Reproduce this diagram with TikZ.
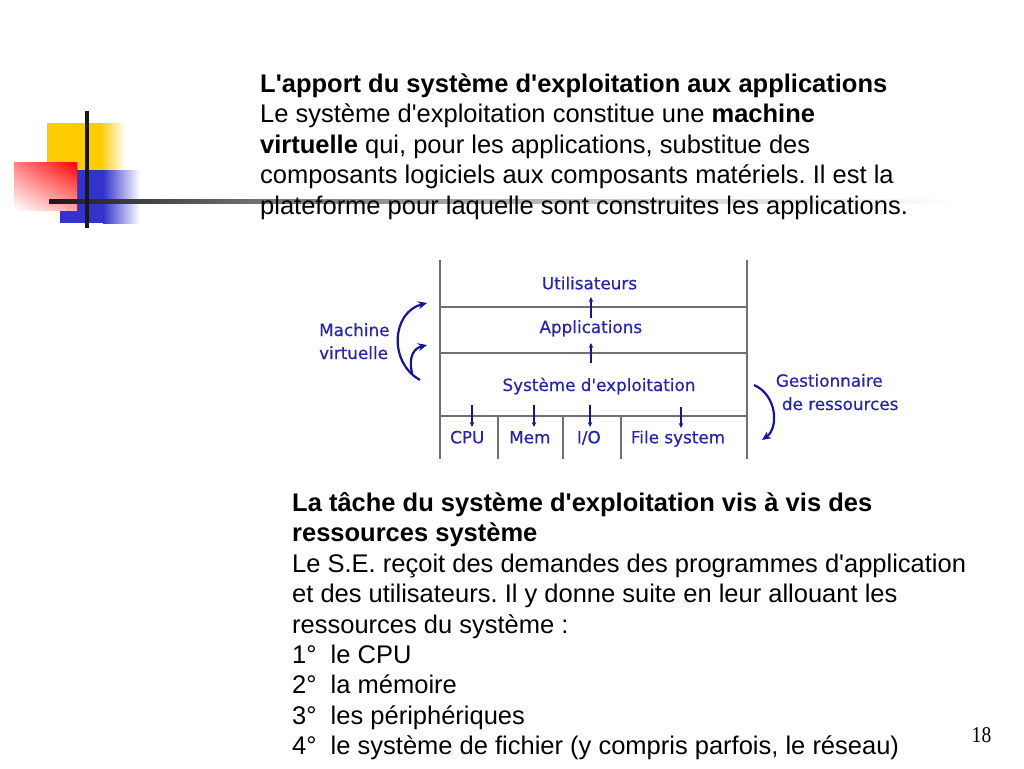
\documentclass[tikz,border=0pt]{standalone}
\usepackage{fontspec}
\newfontfamily\bodyfont{Liberation Sans}
\newfontfamily\diagfont{DejaVu Sans}[FakeBold=0.4]
\newfontfamily\numfont{Liberation Serif}[FakeStretch=0.87]
\usetikzlibrary{arrows.meta,shadings}
\definecolor{dblue}{RGB}{35,35,180}
\definecolor{ablue}{RGB}{20,20,160}
\definecolor{lgray}{RGB}{112,112,112}
\definecolor{lyellow}{RGB}{255,204,0}
\definecolor{lblue}{RGB}{51,51,204}
\definecolor{lred}{RGB}{255,0,0}
\definecolor{barblack}{RGB}{25,25,25}
\frenchspacing
\begin{document}
\begin{tikzpicture}[x=1pt,y=-1pt,
  body/.style={anchor=base west, inner sep=0pt, font=\bodyfont\frenchspacing\fontsize{25.5}{30.6}\selectfont},
  lbl/.style={anchor=base west, inner sep=0pt, text=dblue, font=\diagfont\fontsize{16.8}{20}\selectfont},
  grid/.style={draw=lgray, line width=2.5pt},
  smallarrow/.style={draw=ablue, line width=1.2pt, -{Stealth[length=5pt,width=4.5pt]}},
  bigarrow/.style={draw=ablue, line width=2.2pt, -{Stealth[length=9pt,width=8pt,inset=3pt]}}
]
\useasboundingbox (0,0) rectangle (1024,768);
\fill[white] (0,0) rectangle (1024,768);

% ---- logo ----
\fill[lyellow] (47,123) rectangle (100,170);
\shade[left color=lyellow, right color=white] (100,123) rectangle (125,170);
\fill[lblue] (60,170) rectangle (103,223);
\shade[left color=lblue, right color=white] (103,170) rectangle (140,223);
\shade[upper right=lred, upper left=lred!50!white, lower right=lred!35!white, lower left=white] (14,162) rectangle (77,210);
\shade[left color=barblack, right color=black!55] (49,199) rectangle (260,203.5);
\shade[left color=black!55, right color=black!20] (260,199) rectangle (620,203.5);
\shade[left color=black!20, right color=white] (620,199) rectangle (960,203.5);
\draw[barblack, line width=4pt] (87,110.7) -- (87,228);

% ---- first text block ----
\node[body] (t1) at (260,92) {\bfseries L'apport du système d'exploitation aux applications};
\node[body] (t2) at (260,122.5) {Le système d'exploitation constitue une \textbf{machine}};
\node[body] (t3) at (260,153) {\textbf{virtuelle} qui, pour les applications, substitue des};
\node[body] (t4) at (260,183.5) {composants logiciels aux composants matériels. Il est la};
\node[body] (t5) at (260,214) {plateforme pour laquelle sont construites les applications.};

% ---- diagram grid ----
\draw[grid] (440,260) -- (440,459);
\draw[grid] (747,260) -- (747,459);
\draw[grid] (440,307) -- (747,307);
\draw[grid] (440,353) -- (747,353);
\draw[grid] (440,416) -- (747,416);
\draw[grid] (498,416) -- (498,459);
\draw[grid] (563,416) -- (563,459);
\draw[grid] (621,416) -- (621,459);

% ---- diagram labels ----
\node[lbl] (util) at (541.7,289.3) {Utilisateurs};
\node[lbl] (appl) at (539.3,333) {Applications};
\node[lbl] (se) at (502.3,391) {Système d'exploitation};
\node[lbl] (cpu) at (450,443.3) {CPU};
\node[lbl] (mem) at (509,443.3) {Mem};
\node[lbl] (io) at (576.7,443.3) {I/O};
\node[lbl] (fs) at (630.7,443.3) {File system};
\node[lbl] (mv1) at (319,336) {Machine};
\node[lbl] (mv2) at (319,359) {virtuelle};
\node[lbl] (gr1) at (775.7,386.7) {Gestionnaire};
\node[lbl] (gr2) at (781.7,410) {de ressources};

% ---- small arrows ----
\coordinate (u1a) at (591,318); \coordinate (u1b) at (591,297);
\coordinate (u2a) at (591,363); \coordinate (u2b) at (591,343);
\coordinate (d1a) at (472,405); \coordinate (d1b) at (472,427);
\coordinate (d2a) at (534,405); \coordinate (d2b) at (534,427);
\coordinate (d3a) at (590,405); \coordinate (d3b) at (590,427);
\coordinate (d4a) at (681,407); \coordinate (d4b) at (681,428);
\draw[smallarrow] (u1a) -- (u1b);
\draw[smallarrow] (u2a) -- (u2b);
\draw[smallarrow] (d1a) -- (d1b);
\draw[smallarrow] (d2a) -- (d2b);
\draw[smallarrow] (d3a) -- (d3b);
\draw[smallarrow] (d4a) -- (d4b);

% ---- curved arrows ----
\coordinate (c1a) at (420,380); \coordinate (c1b) at (427,303);
\coordinate (c2a) at (412,373); \coordinate (c2b) at (427,345);
\coordinate (c3a) at (754,385); \coordinate (c3b) at (762,440);
\draw[bigarrow] (c1a) .. controls (388,362) and (392,312) .. (c1b);
\draw[bigarrow] (c2a) .. controls (408,355) and (415,348) .. (c2b);
\draw[bigarrow] (c3a) .. controls (777,395) and (779,428) .. (c3b);

% ---- second text block ----
\node[body] (s1) at (292,511) {\bfseries La tâche du système d'exploitation vis à vis des};
\node[body] (s2) at (292,541.5) {\bfseries ressources système};
\node[body] (s3) at (292,572) {Le S.E. reçoit des demandes des programmes d'application};
\node[body] (s4) at (292,602.5) {et des utilisateurs. Il y donne suite en leur allouant les};
\node[body] (s5) at (292,633) {ressources du système :};
\node[body] (s6) at (292,663) {1°\ \ le CPU};
\node[body] (s7) at (292,693.5) {2°\ \ la mémoire};
\node[body] (s8) at (292,724) {3°\ \ les périphériques};
\node[body] (s9) at (292,754.5) {4°\ \ le système de fichier (y compris parfois, le réseau)};

% ---- page number ----
\node[anchor=base west, inner sep=0pt, font=\numfont\fontsize{22.5}{24}\selectfont] (pg) at (971.5,742.3) {18};
\end{tikzpicture}
\end{document}
